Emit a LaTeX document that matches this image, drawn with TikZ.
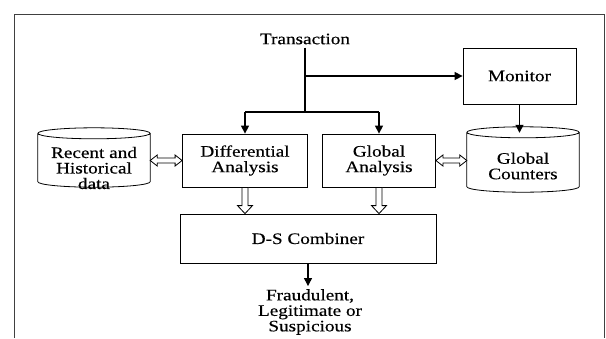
\documentclass[tikz,border=0pt]{standalone}
\usepackage{fontspec}
\setmainfont{Liberation Serif}[FakeStretch=1.2, FakeBold=0.3]
\usetikzlibrary{arrows.meta,calc}

\tikzset{
  box/.style={draw, line width=0.8pt, rectangle, align=center, inner sep=2pt},
  dbarea/.style={rectangle, inner sep=0pt},
  flow/.style={line width=1.3pt, -{Triangle[length=8pt,width=8pt]}},
  wire/.style={line width=1.3pt},
  hollow/.style={draw, line width=0.8pt, fill=white, line join=miter},
  lbl/.style={align=center, inner sep=0pt},
}

% drum (database) outline filling the area of node #1
\newcommand\drum[1]{%
  \draw[line width=0.8pt] let \p1=(#1.north west), \p2=(#1.south east), \n1={(\x2-\x1)/2} in
    (\x1,\y1-5.5pt) -- (\x1,\y2+5.5pt)
      arc[start angle=180, end angle=360, x radius=\n1, y radius=5.5pt]
      -- (\x2,\y1-5.5pt)
    (\x1,\y1-5.5pt) arc[start angle=180, end angle=-180, x radius=\n1, y radius=5.5pt];}
% hollow block arrow pointing down, from #1 to the top of #2
\newcommand\hollowdown[2]{%
  \path[hollow] let \p1=(#1), \p2=(#2) in
    (\x1-3pt,\y1) -- (\x1-3pt,\y2+8pt) -- (\x1-7.5pt,\y2+8pt) -- (\x1,\y2)
    -- (\x1+7.5pt,\y2+8pt) -- (\x1+3pt,\y2+8pt) -- (\x1+3pt,\y1) -- cycle;}
% hollow two-headed horizontal arrow between #1 (left) and #2 (right)
\newcommand\hollowboth[2]{%
  \path[hollow] let \p1=(#1), \p2=(#2) in
    (\x1,\y1) -- (\x1+7pt,\y1+5.5pt) -- (\x1+7pt,\y1+2.5pt) -- (\x2-7pt,\y1+2.5pt)
    -- (\x2-7pt,\y1+5.5pt) -- (\x2,\y1) -- (\x2-7pt,\y1-5.5pt) -- (\x2-7pt,\y1-2.5pt)
    -- (\x1+7pt,\y1-2.5pt) -- (\x1+7pt,\y1-5.5pt) -- cycle;}

\begin{document}
\begin{tikzpicture}[x=1pt, y=-1pt, font=\fontsize{16}{15.5}\selectfont]
\useasboundingbox (0,0) rectangle (606,338);

% open frame
\draw[line width=0.8pt, black!75] (14,338) -- (14,14) -- (604,14) -- (604,338);

% blocks
\node[lbl] (trans) at (305,39) {Transaction};
\node[box, minimum width=113pt, minimum height=56pt] (mon) at (519.5,76) {Monitor};
\node[box, minimum width=125pt, minimum height=53pt] (diff) at (245,160.5) {Differential\\Analysis};
\node[box, minimum width=113pt, minimum height=53pt] (glob) at (379,160.5) {Global\\Analysis};
\node[box, minimum width=256pt, minimum height=49pt] (ds) at (308,238.5) {D-S Combiner};
\node[dbarea, minimum width=112pt, minimum height=59pt] (rec) at (94,157.5) {};
\drum{rec}
\node[lbl] (rectxt) at (94,168) {Recent and\\Historical\\data};
\node[dbarea, minimum width=112pt, minimum height=65pt] (gc) at (523,159.5) {};
\drum{gc}
\node[lbl] (gctxt) at (523,166) {Global\\Counters};
\node[lbl] (out) at (310,312) {Fraudulent,\\Legitimate or\\Suspicious};

% transaction fan-out
\coordinate (j) at (trans.south |- 0,112);
\coordinate (jm) at (trans.south |- mon.west);
\draw[wire] ([yshift=-3pt]trans.south) -- (j);
\draw[wire] (diff.north |- j) -- (glob.north |- j);
\draw[flow] (diff.north |- j) -- (diff.north);
\draw[flow] (glob.north |- j) -- (glob.north);
\draw[flow] (jm) -- (mon.west);
\draw[flow] (mon.south) -- ([yshift=-6pt]mon.south |- gc.north);

% data exchange and combination
\hollowboth{rec.east |- diff.west}{diff.west}
\hollowboth{glob.east}{gc.west}
\hollowdown{diff.south}{ds.north}
\hollowdown{glob.south}{ds.north}

% result
\draw[flow] (ds.south) -- ([yshift=3pt]ds.south |- out.north);
\end{tikzpicture}
\end{document}
